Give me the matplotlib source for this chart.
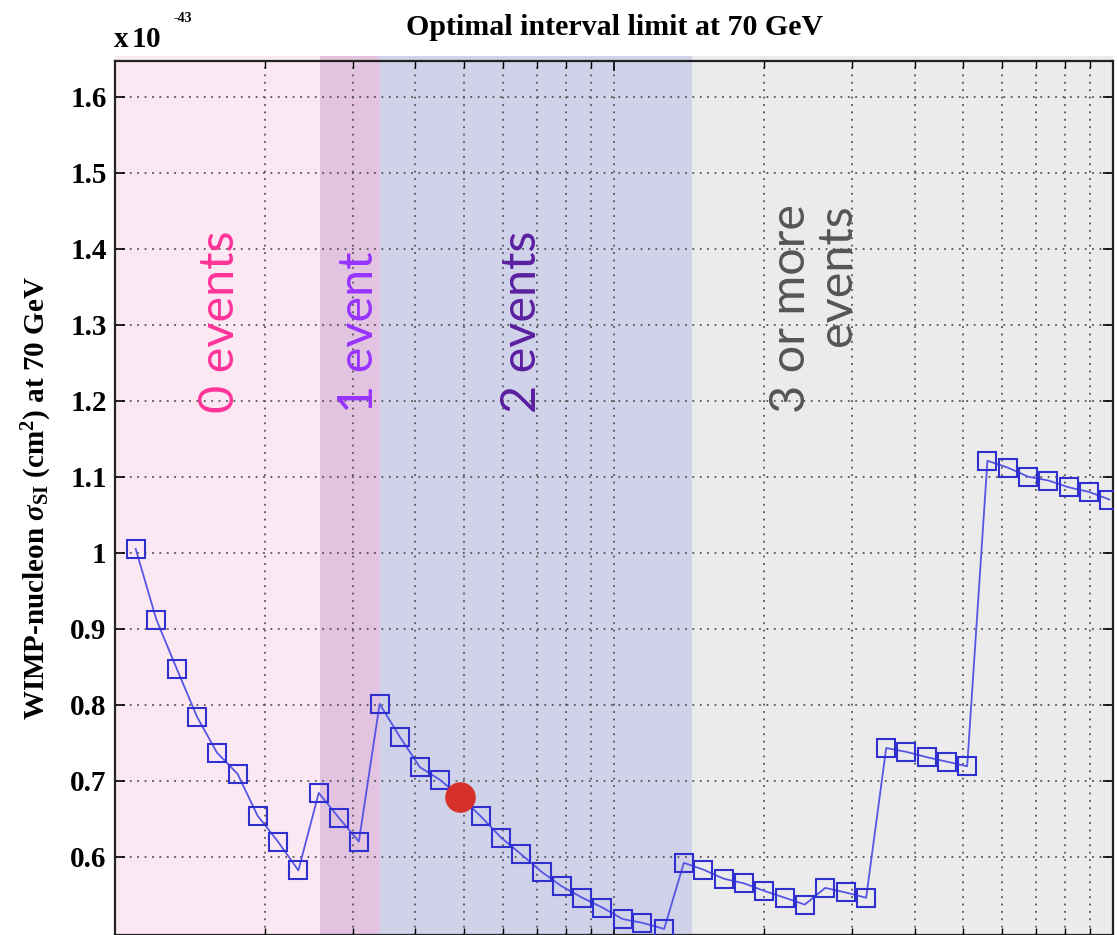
import matplotlib.pyplot as plt

plt.rcParams['font.family'] = ['Liberation Serif', 'DejaVu Serif']
plt.rcParams['mathtext.fontset'] = 'custom'
plt.rcParams['mathtext.rm'] = 'Liberation Serif:bold'
plt.rcParams['mathtext.it'] = 'Liberation Serif:italic:bold'
plt.rcParams['mathtext.bf'] = 'Liberation Serif:bold'

# interval limit vs. position (log spaced), sigma in units of 1e-43 cm^2
x_vals = [1.10, 1.21, 1.33, 1.46, 1.60, 1.76, 1.93, 2.12, 2.33, 2.56,
          2.81, 3.08, 3.39, 3.72, 4.08, 4.48, 4.92, 5.41, 5.94, 6.52,
          7.16, 7.86, 8.64, 9.48, 10.4, 11.4, 12.6, 13.8, 15.1, 16.6,
          18.2, 20.0, 22.0, 24.1, 26.5, 29.1, 32.0, 35.1, 38.5, 42.3,
          46.5, 51.0, 56.0, 61.5, 67.6, 74.2, 81.5, 89.5, 98.3]
sigma_vals = [1.005, 0.912, 0.847, 0.784, 0.737, 0.709, 0.654, 0.620, 0.582, 0.684,
              0.651, 0.620, 0.801, 0.758, 0.718, 0.701, 0.679, 0.653, 0.625, 0.603,
              0.580, 0.561, 0.546, 0.533, 0.518, 0.513, 0.505, 0.592, 0.583, 0.571,
              0.565, 0.555, 0.546, 0.537, 0.559, 0.553, 0.546, 0.743, 0.738, 0.731,
              0.725, 0.719, 1.121, 1.112, 1.100, 1.095, 1.086, 1.080, 1.070]

marked_x = 4.92
marked_y = 0.679

region_edges = [1, 2.57, 3.40, 14.3, 100]
region_colors = ['#fce8f2', '#e2c4e0', '#d0d2ea', '#ebebeb']
region_labels = ['0 events', '1 event', '2 events', '3 or more\nevents']
label_x = [1.62, 3.08, 6.55, 25.2]
label_colors = ['#ff3399', '#9933ff', '#5a1fa0', '#555555']

y_ticks = [0.6, 0.7, 0.8, 0.9, 1.0, 1.1, 1.2, 1.3, 1.4, 1.5, 1.6]
y_tick_labels = ['0.6', '0.7', '0.8', '0.9', '1', '1.1', '1.2', '1.3', '1.4', '1.5', '1.6']

fig = plt.figure(figsize=(11.17, 9.35), dpi=100)
ax = fig.add_axes([0.103, 0.0, 0.8935, 0.9348])
ax.set_xscale('log')
ax.set_xlim(1, 100)
ax.set_ylim(0.497, 1.647)

for i in range(len(region_colors)):
    ax.axvspan(region_edges[i], region_edges[i + 1], ymin=0, ymax=1.006,
               color=region_colors[i], lw=0, zorder=0.2, clip_on=False)

ax.set_axisbelow(True)
ax.grid(True, which='both', color='#555555', linestyle=(0, (1, 3.1)), linewidth=1.3)

ax.plot(x_vals, sigma_vals, color='#5555e6', lw=1.3, marker='s', markersize=13,
        markerfacecolor='none', markeredgecolor='#3030d0', markeredgewidth=1.5, zorder=3)
ax.plot([marked_x], [marked_y], 'o', color='#d6302a', markersize=21, zorder=4)

for lab, lx, lc in zip(region_labels, label_x, label_colors):
    ax.text(lx, 1.184, lab, rotation=90, ha='center', va='bottom', color=lc,
            fontsize=35, family=['Lato', 'DejaVu Sans'], multialignment='right',
            linespacing=1.05, zorder=5)

ax.set_yticks(y_ticks)
ax.set_yticklabels(y_tick_labels, fontsize=21, fontweight='bold')
ax.tick_params(axis='both', which='both', direction='in', top=True, right=True)
ax.tick_params(axis='both', which='major', length=7, width=1.2, pad=6)
ax.tick_params(axis='x', which='minor', length=5, width=1.0)
ax.tick_params(axis='x', which='both', labelbottom=False)
for s in ax.spines.values():
    s.set_linewidth(1.6)
    s.set_color('#222222')

ax.set_title('Optimal interval limit at 70 GeV', fontsize=21.5, fontweight='bold', pad=19)
ax.set_ylabel(r'WIMP-nucleon $\sigma_{\mathrm{SI}}$ (cm$^2$) at 70 GeV',
              fontsize=21, fontweight='bold', labelpad=12)

fig.text(0.101, 0.950, r'x$\,$10', fontsize=21, fontweight='bold', ha='left', va='baseline')
fig.text(0.155, 0.976, '-43', fontsize=10, fontweight='bold', ha='left', va='baseline')

fig.savefig('out.png', dpi=100)
